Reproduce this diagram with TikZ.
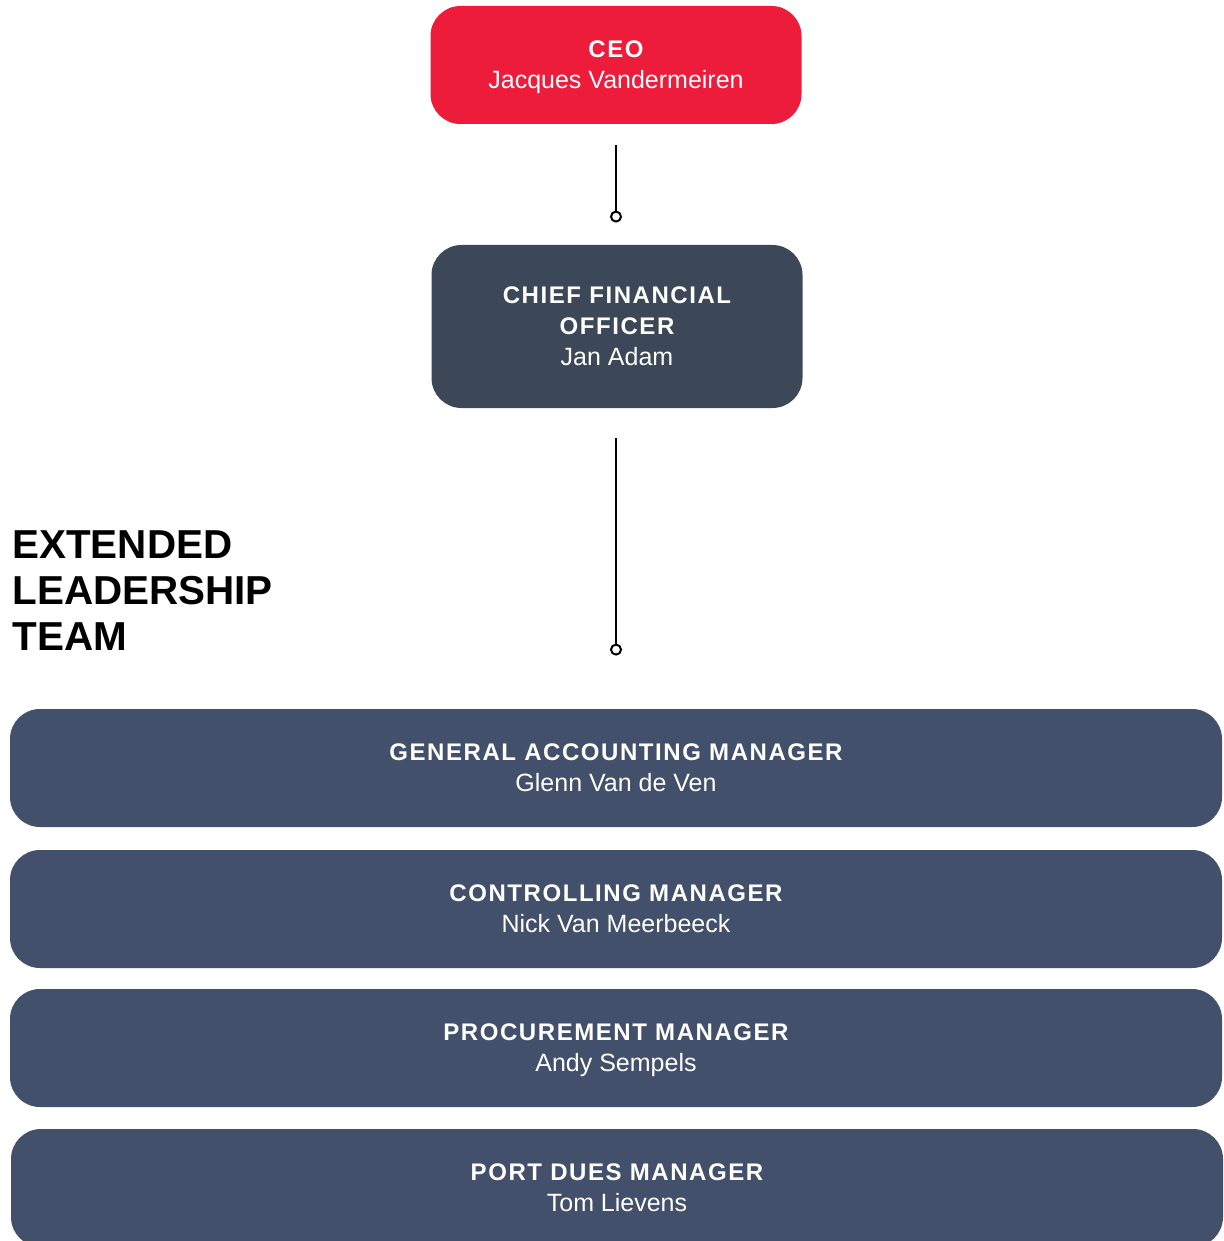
\documentclass[tikz,border=0pt]{standalone}
\usepackage{fontspec}
\setmainfont{Liberation Sans}
\newfontfamily\capsfont{Liberation Sans}[LetterSpace=6.5]
\usetikzlibrary{arrows.meta}
\definecolor{ceored}{HTML}{ED1C3B}
\definecolor{cfoslate}{HTML}{3C4858}
\definecolor{teamslate}{HTML}{43506B}
\newcommand\boxtitle[1]{{\capsfont\bfseries\fontsize{12}{15.5}\selectfont #1}}

\begin{document}
\begin{tikzpicture}[x=0.5pt, y=-0.5pt,
    box/.style={shape=rectangle, rounded corners=15pt, text=white, align=center,
      inner sep=0pt, text depth=-1.2pt, font=\fontsize{12.5}{15.5}\selectfont},
    teambox/.style={box, fill=teamslate, minimum width=606pt, minimum height=59pt},
    conn/.style={line width=1pt, -{Circle[open, length=6pt, line width=1pt]}}]
  \useasboundingbox (0,0) rectangle (1223,1241);

  \node[box, fill=ceored, minimum width=185.5pt, minimum height=59pt] (n_ceo) at (616,65)
    {\boxtitle{CEO}\\Jacques Vandermeiren};
  \node[box, fill=cfoslate, minimum width=185.5pt, minimum height=81.5pt] (n_cfo) at (617,326.5)
    {\boxtitle{CHIEF FINANCIAL}\\\boxtitle{OFFICER}\\Jan Adam};

  \node[anchor=north west, inner sep=0pt, align=left, font=\fontsize{20.2}{23}\selectfont\bfseries] (n_title) at (12,530)
    {EXTENDED\\LEADERSHIP\\TEAM};

  \node[teambox] (t_1) at (616,768) {\boxtitle{GENERAL ACCOUNTING MANAGER}\\Glenn Van de Ven};
  \node[teambox] (t_2) at (616,909) {\boxtitle{CONTROLLING MANAGER}\\Nick Van Meerbeeck};
  \node[teambox] (t_3) at (616,1048) {\boxtitle{PROCUREMENT MANAGER}\\Andy Sempels};
  \node[teambox] (t_4) at (617,1188) {\boxtitle{PORT DUES MANAGER}\\Tom Lievens};

  \draw[conn, shorten <=10.5pt, shorten >=11pt] (n_ceo.south) -- (n_ceo.south |- n_cfo.north);
  \draw[conn, shorten <=15pt, shorten >=26.5pt] (n_ceo.south |- n_cfo.south) -- (t_1.north);
\end{tikzpicture}
\end{document}
